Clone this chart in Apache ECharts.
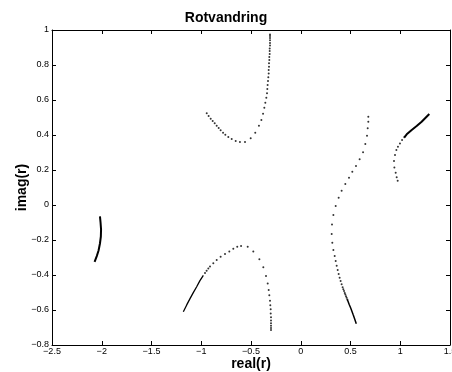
<!DOCTYPE html>
<html>
<head>
<meta charset="utf-8">
<script src="https://cdn.jsdelivr.net/npm/echarts@6/dist/echarts.min.js"></script>
<style>html,body{margin:0;padding:0;background:#fff}#c{width:452px;height:372px}</style>
</head>
<body>
<div id="c"></div>
<script>
// Tick settings
const xTicks = [-2.5, -2, -1.5, -1, -0.5, 0, 0.5, 1, 1.5];
const yTicks = [-0.8, -0.6, -0.4, -0.2, 0, 0.2, 0.4, 0.6, 0.8, 1];

// Branch 1: far left (dense, drawn as a solid trace)
const b1Line = [[-2.018,-0.065],[-2.012,-0.10],[-2.007,-0.14],[-2.009,-0.18],[-2.018,-0.22],[-2.032,-0.26],[-2.05,-0.292],[-2.072,-0.325]];

// Branch 2: upper middle (dots)
const b2Dots = [[-0.945,0.524],[-0.926,0.509],[-0.905,0.493],[-0.885,0.480],[-0.865,0.467],[-0.845,0.453],[-0.825,0.440],[-0.805,0.427],[-0.781,0.413],[-0.758,0.402],[-0.728,0.389],[-0.694,0.377],[-0.654,0.366],[-0.611,0.360],[-0.560,0.360],[-0.503,0.381],[-0.457,0.413],[-0.420,0.453],[-0.396,0.486],[-0.379,0.522],[-0.366,0.556],[-0.356,0.585],[-0.346,0.613],[-0.339,0.638],[-0.336,0.663],[-0.333,0.686],[-0.329,0.709],[-0.326,0.730],[-0.322,0.751],[-0.322,0.771],[-0.319,0.790],[-0.319,0.810],[-0.316,0.829],[-0.316,0.846],[-0.312,0.863],[-0.312,0.880],[-0.312,0.895],[-0.309,0.911],[-0.309,0.926],[-0.309,0.941],[-0.309,0.954],[-0.309,0.966],[-0.309,0.975]];

// Branch 3: lower middle (dense start + dots)
const b3Line = [[-1.180,-0.610],[-1.146,-0.571],[-1.113,-0.535],[-1.080,-0.501],[-1.046,-0.467],[-1.013,-0.432],[-0.979,-0.402]];
const b3Dots = [[-0.962,-0.388],[-0.946,-0.375],[-0.929,-0.363],[-0.912,-0.352],[-0.879,-0.333],[-0.845,-0.314],[-0.805,-0.295],[-0.761,-0.280],[-0.718,-0.265],[-0.678,-0.250],[-0.638,-0.238],[-0.600,-0.234],[-0.533,-0.238],[-0.477,-0.265],[-0.416,-0.310],[-0.376,-0.356],[-0.349,-0.406],[-0.332,-0.448],[-0.322,-0.486],[-0.316,-0.516],[-0.309,-0.547],[-0.306,-0.573],[-0.302,-0.596],[-0.302,-0.620],[-0.299,-0.642],[-0.299,-0.660],[-0.299,-0.676],[-0.299,-0.690],[-0.299,-0.703],[-0.299,-0.714]];

// Branch 4: right middle (dots + dense end)
const b4Dots = [[0.679,0.505],[0.679,0.476],[0.673,0.438],[0.666,0.396],[0.649,0.349],[0.626,0.301],[0.592,0.261],[0.555,0.223],[0.518,0.190],[0.485,0.156],[0.448,0.120],[0.411,0.082],[0.381,0.042],[0.351,-0.005],[0.328,-0.057],[0.314,-0.112],[0.311,-0.166],[0.317,-0.215],[0.328,-0.257],[0.341,-0.291],[0.351,-0.320],[0.361,-0.347],[0.371,-0.371],[0.381,-0.394],[0.391,-0.415],[0.401,-0.434],[0.411,-0.453],[0.421,-0.470],[0.428,-0.481],[0.435,-0.492],[0.442,-0.503],[0.448,-0.512],[0.455,-0.521],[0.461,-0.530],[0.468,-0.540]];
const b4Line = [[0.468,-0.540],[0.475,-0.551],[0.488,-0.570],[0.502,-0.589],[0.515,-0.608],[0.528,-0.629],[0.542,-0.651],[0.558,-0.678]];

// Branch 5: far right (dots + dense end)
const b5Dots = [[0.974,0.139],[0.964,0.158],[0.954,0.185],[0.941,0.215],[0.937,0.251],[0.947,0.286],[0.961,0.314],[0.977,0.333],[0.997,0.352],[1.018,0.371],[1.041,0.387]];
const b5Line = [[1.041,0.387],[1.065,0.404],[1.115,0.429],[1.165,0.451],[1.215,0.476],[1.292,0.520]];

const fam = '"Liberation Sans", Arial, Helvetica, sans-serif';
const fmt = v => {
  const r = Math.round(v * 10) / 10;
  const s = String(Math.abs(r));
  return (r < 0 ? '\u2212' : '') + s;
};

const chart = echarts.init(document.getElementById('c'), null, {renderer: 'canvas'});

const axisCommon = {
  axisLine: {show: true, onZero: false, lineStyle: {color: '#000', width: 1}},
  axisTick: {show: true, inside: true, length: 4, lineStyle: {color: '#000', width: 1}},
  splitLine: {show: false}
};

const dotSeries = (data) => ({
  type: 'scatter', data: data, symbol: 'circle', symbolSize: 2,
  itemStyle: {color: '#000'}, silent: true, animation: false
});
const lineSeries = (data, w) => ({
  type: 'line', data: data, showSymbol: false, smooth: false,
  lineStyle: {color: '#000', width: w}, silent: true, animation: false
});

chart.setOption({
  animation: false,
  backgroundColor: '#fff',
  title: {
    text: 'Rotvandring', left: 'center', top: 11, padding: 0,
    textStyle: {fontFamily: fam, fontSize: 14, fontWeight: 'bold', color: '#000'}
  },
  grid: {left: 52, right: 2, top: 30, bottom: 27, containLabel: false, outerBoundsMode: 'none'},
  xAxis: [
    Object.assign({}, axisCommon, {
      type: 'value', position: 'bottom',
      min: xTicks[0], max: xTicks[xTicks.length - 1], interval: 0.5,
      name: 'real(r)', nameLocation: 'middle', nameGap: 12, nameMoveOverlap: false,
      nameTextStyle: {fontFamily: fam, fontSize: 14, fontWeight: 'bold', color: '#000'},
      axisLabel: {fontFamily: fam, fontSize: 9, color: '#000', margin: 2, formatter: fmt, showMinLabel: true, showMaxLabel: true, hideOverlap: false}
    }),
    Object.assign({}, axisCommon, {
      type: 'value', position: 'top',
      min: xTicks[0], max: xTicks[xTicks.length - 1], interval: 0.5,
      axisLabel: {show: false}
    })
  ],
  yAxis: [
    Object.assign({}, axisCommon, {
      type: 'value', position: 'left',
      min: yTicks[0], max: yTicks[yTicks.length - 1], interval: 0.2,
      name: 'imag(r)', nameLocation: 'middle', nameGap: 23, nameRotate: 90, nameMoveOverlap: false,
      nameTextStyle: {fontFamily: fam, fontSize: 14, fontWeight: 'bold', color: '#000'},
      axisLabel: {fontFamily: fam, fontSize: 9, color: '#000', margin: 3, formatter: fmt, showMinLabel: true, showMaxLabel: true, hideOverlap: false}
    }),
    Object.assign({}, axisCommon, {
      type: 'value', position: 'right',
      min: yTicks[0], max: yTicks[yTicks.length - 1], interval: 0.2,
      axisLabel: {show: false}
    })
  ],
  series: [
    lineSeries(b1Line, 2),
    dotSeries(b2Dots),
    lineSeries(b3Line, 1.3),
    dotSeries(b3Dots),
    dotSeries(b4Dots),
    lineSeries(b4Line, 1.5),
    dotSeries(b5Dots),
    lineSeries(b5Line, 2)
  ]
});
</script>
</body>
</html>
